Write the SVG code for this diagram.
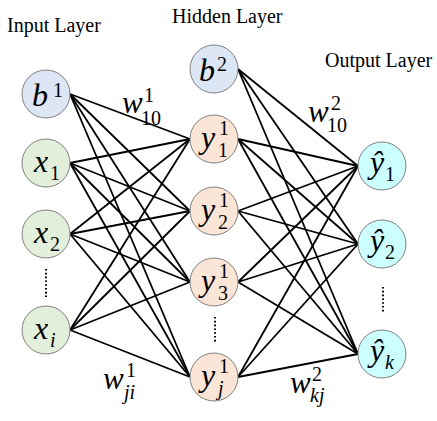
<svg xmlns="http://www.w3.org/2000/svg" width="437" height="421" viewBox="0 0 437 421">
<rect width="437" height="421" fill="#ffffff"/>
<g id="titles">
<text x="7" y="32" font-family="Liberation Serif" font-size="20" style="font-family:'Liberation Serif',serif">Input Layer</text>
<text x="172" y="23" font-family="Liberation Serif" font-size="20" style="font-family:'Liberation Serif',serif">Hidden Layer</text>
<text x="325" y="67" font-family="Liberation Serif" font-size="20" style="font-family:'Liberation Serif',serif">Output Layer</text>
</g>
<g id="edges" stroke="#000000" stroke-width="1.8">
<line x1="70" y1="94" x2="190" y2="139"/><line x1="70" y1="94" x2="190" y2="211"/><line x1="70" y1="94" x2="190" y2="282"/><line x1="70" y1="94" x2="190" y2="377"/>
<line x1="70" y1="163" x2="190" y2="139"/><line x1="70" y1="163" x2="190" y2="211"/><line x1="70" y1="163" x2="190" y2="282"/><line x1="70" y1="163" x2="190" y2="377"/>
<line x1="70" y1="234" x2="190" y2="139"/><line x1="70" y1="234" x2="190" y2="211"/><line x1="70" y1="234" x2="190" y2="282"/><line x1="70" y1="234" x2="190" y2="377"/>
<line x1="70" y1="330" x2="190" y2="139"/><line x1="70" y1="330" x2="190" y2="211"/><line x1="70" y1="330" x2="190" y2="282"/><line x1="70" y1="330" x2="190" y2="377"/>
<line x1="238" y1="69" x2="358" y2="166"/><line x1="238" y1="69" x2="358" y2="244"/><line x1="238" y1="69" x2="358" y2="354"/>
<line x1="238" y1="139" x2="358" y2="166"/><line x1="238" y1="139" x2="358" y2="244"/><line x1="238" y1="139" x2="358" y2="354"/>
<line x1="238" y1="211" x2="358" y2="166"/><line x1="238" y1="211" x2="358" y2="244"/><line x1="238" y1="211" x2="358" y2="354"/>
<line x1="238" y1="282" x2="358" y2="166"/><line x1="238" y1="282" x2="358" y2="244"/><line x1="238" y1="282" x2="358" y2="354"/>
<line x1="238" y1="377" x2="358" y2="166"/><line x1="238" y1="377" x2="358" y2="244"/><line x1="238" y1="377" x2="358" y2="354"/>
</g>
<g id="dots" stroke="#000000" stroke-width="2" stroke-dasharray="1.6 2.2">
<line x1="46" y1="269" x2="46" y2="297"/>
<line x1="215" y1="317" x2="215" y2="343"/>
<line x1="383" y1="287" x2="383" y2="313"/>
</g>
<g id="node-b1"><circle cx="46" cy="94" r="24" fill="#dce6f4" stroke="#808080"/><text x="32" y="106" font-family="Liberation Serif" font-size="32" font-style="italic" style="font-family:'Liberation Serif',serif">b</text><text x="53" y="97" font-family="Liberation Serif" font-size="20" style="font-family:'Liberation Serif',serif">1</text></g>
<g id="node-x1"><circle cx="46" cy="163" r="24" fill="#e2efda" stroke="#808080"/><text x="34" y="172" font-family="Liberation Serif" font-size="32" font-style="italic" style="font-family:'Liberation Serif',serif">x</text><text x="50" y="180" font-family="Liberation Serif" font-size="20" style="font-family:'Liberation Serif',serif">1</text></g>
<g id="node-x2"><circle cx="46" cy="234" r="24" fill="#e2efda" stroke="#808080"/><text x="34" y="243" font-family="Liberation Serif" font-size="32" font-style="italic" style="font-family:'Liberation Serif',serif">x</text><text x="50" y="251" font-family="Liberation Serif" font-size="20" style="font-family:'Liberation Serif',serif">2</text></g>
<g id="node-xi"><circle cx="46" cy="330" r="24" fill="#e2efda" stroke="#808080"/><text x="34" y="339" font-family="Liberation Serif" font-size="32" font-style="italic" style="font-family:'Liberation Serif',serif">x</text><text x="50" y="347" font-family="Liberation Serif" font-size="20" font-style="italic" style="font-family:'Liberation Serif',serif">i</text></g>
<g id="node-b2"><circle cx="214" cy="69" r="24" fill="#dce6f4" stroke="#808080"/><text x="199" y="81" font-family="Liberation Serif" font-size="32" font-style="italic" style="font-family:'Liberation Serif',serif">b</text><text x="217" y="71" font-family="Liberation Serif" font-size="20" style="font-family:'Liberation Serif',serif">2</text></g>
<g id="node-y1"><circle cx="214" cy="139" r="24" fill="#fbe5d6" stroke="#808080"/><text x="201" y="148" font-family="Liberation Serif" font-size="32" font-style="italic" style="font-family:'Liberation Serif',serif">y</text><text x="219" y="135" font-family="Liberation Serif" font-size="20" style="font-family:'Liberation Serif',serif">1</text><text x="218" y="157" font-family="Liberation Serif" font-size="20" style="font-family:'Liberation Serif',serif">1</text></g>
<g id="node-y2"><circle cx="214" cy="211" r="24" fill="#fbe5d6" stroke="#808080"/><text x="201" y="220" font-family="Liberation Serif" font-size="32" font-style="italic" style="font-family:'Liberation Serif',serif">y</text><text x="219" y="207" font-family="Liberation Serif" font-size="20" style="font-family:'Liberation Serif',serif">1</text><text x="218" y="229" font-family="Liberation Serif" font-size="20" style="font-family:'Liberation Serif',serif">2</text></g>
<g id="node-y3"><circle cx="214" cy="282" r="24" fill="#fbe5d6" stroke="#808080"/><text x="201" y="291" font-family="Liberation Serif" font-size="32" font-style="italic" style="font-family:'Liberation Serif',serif">y</text><text x="219" y="278" font-family="Liberation Serif" font-size="20" style="font-family:'Liberation Serif',serif">1</text><text x="218" y="300" font-family="Liberation Serif" font-size="20" style="font-family:'Liberation Serif',serif">3</text></g>
<g id="node-yj"><circle cx="214" cy="377" r="24" fill="#fbe5d6" stroke="#808080"/><text x="201" y="386" font-family="Liberation Serif" font-size="32" font-style="italic" style="font-family:'Liberation Serif',serif">y</text><text x="219" y="373" font-family="Liberation Serif" font-size="20" style="font-family:'Liberation Serif',serif">1</text><text x="218" y="395" font-family="Liberation Serif" font-size="20" font-style="italic" style="font-family:'Liberation Serif',serif">j</text></g>
<g id="node-o1"><circle cx="382" cy="166" r="24" fill="#ccffff" stroke="#808080"/><text x="370" y="173" font-family="Liberation Serif" font-size="32" font-style="italic" style="font-family:'Liberation Serif',serif">ŷ</text><text x="385" y="181" font-family="Liberation Serif" font-size="20" style="font-family:'Liberation Serif',serif">1</text></g>
<g id="node-o2"><circle cx="382" cy="244" r="24" fill="#ccffff" stroke="#808080"/><text x="370" y="251" font-family="Liberation Serif" font-size="32" font-style="italic" style="font-family:'Liberation Serif',serif">ŷ</text><text x="385" y="259" font-family="Liberation Serif" font-size="20" style="font-family:'Liberation Serif',serif">2</text></g>
<g id="node-ok"><circle cx="382" cy="354" r="24" fill="#ccffff" stroke="#808080"/><text x="370" y="361" font-family="Liberation Serif" font-size="32" font-style="italic" style="font-family:'Liberation Serif',serif">ŷ</text><text x="385" y="369" font-family="Liberation Serif" font-size="20" font-style="italic" style="font-family:'Liberation Serif',serif">k</text></g>
<g id="weights">
<text x="122" y="113" font-family="Liberation Serif" font-size="31" font-style="italic" style="font-family:'Liberation Serif',serif">w</text><text x="144" y="102" font-family="Liberation Serif" font-size="20" style="font-family:'Liberation Serif',serif">1</text><text x="141" y="125" font-family="Liberation Serif" font-size="20" style="font-family:'Liberation Serif',serif">10</text>
<text x="308" y="122" font-family="Liberation Serif" font-size="31" font-style="italic" style="font-family:'Liberation Serif',serif">w</text><text x="331" y="110" font-family="Liberation Serif" font-size="20" style="font-family:'Liberation Serif',serif">2</text><text x="327" y="132" font-family="Liberation Serif" font-size="20" style="font-family:'Liberation Serif',serif">10</text>
<text x="103" y="389" font-family="Liberation Serif" font-size="31" font-style="italic" style="font-family:'Liberation Serif',serif">w</text><text x="126" y="377" font-family="Liberation Serif" font-size="20" style="font-family:'Liberation Serif',serif">1</text><text x="124" y="399" font-family="Liberation Serif" font-size="20" font-style="italic" style="font-family:'Liberation Serif',serif">ji</text>
<text x="290" y="393" font-family="Liberation Serif" font-size="31" font-style="italic" style="font-family:'Liberation Serif',serif">w</text><text x="312" y="381" font-family="Liberation Serif" font-size="20" style="font-family:'Liberation Serif',serif">2</text><text x="310" y="402" font-family="Liberation Serif" font-size="20" font-style="italic" style="font-family:'Liberation Serif',serif">kj</text>
</g>
</svg>
